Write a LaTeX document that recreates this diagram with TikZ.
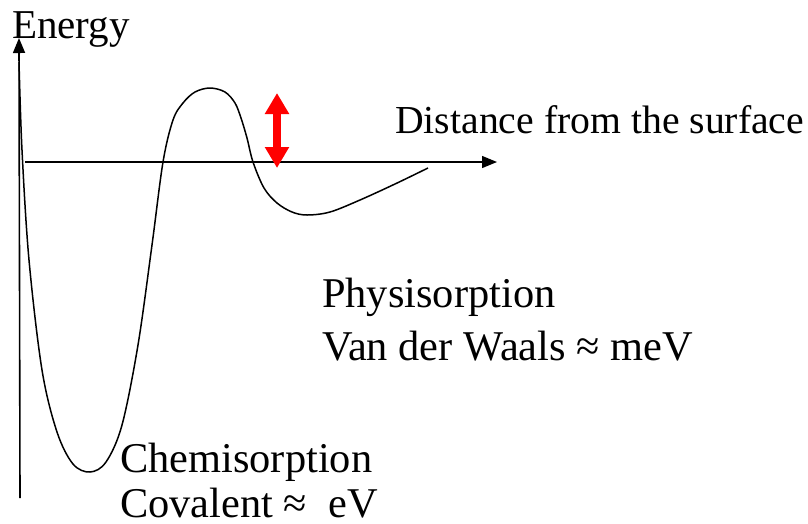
\documentclass[tikz,border=0pt]{standalone}
\usepackage{fontspec}
\setmainfont{Liberation Serif}
\usetikzlibrary{arrows.meta}
\begin{document}
\begin{tikzpicture}[x=1pt,y=-1pt,
  lbl/.style={anchor=base west,inner sep=0pt,font=\fontsize{42.4}{48}\selectfont},
  axis/.style={line width=1.6pt,-{Triangle[length=15pt,width=12pt]}},
  curve/.style={line width=1.5pt},
  redarrow/.style={red,line width=7.5pt,{Triangle[length=21pt,width=23pt]}-{Triangle[length=21pt,width=23pt]}}]
\useasboundingbox (0,0) rectangle (808,523);
% axes
\coordinate (vbot) at (20,498);
\coordinate (vtop) at (19,38);
\coordinate (hleft) at (25,162);
\coordinate (hright) at (497,162);
\draw[axis] (vbot) -- (vtop);
\draw[axis,line width=1.3pt] (hleft) -- (hright);
% potential curve
\draw[curve] plot[smooth,tension=0.55] coordinates {
  (19,62) (22,150) (29,260) (42,370) (57,432) (73,464) (90,472)
  (106,462) (122,425) (138,345) (152,245) (163,162) (173,120) (183,103)
  (195,92) (210,88) (225,92) (235,103) (241,118) (247,138) (253,162)
  (264,188) (277,203) (292,212) (307,215) (330,212) (360,200) (395,184) (428,168)};
% red arrow
\coordinate (rtop) at (277,93);
\coordinate (rbot) at (277,168);
\draw[redarrow] (rtop) -- (rbot);
% labels
\node[lbl,font=\fontsize{41}{46}\selectfont] (energy) at (12,38) {Energy};
\node[lbl,font=\fontsize{39.7}{46}\selectfont] (dist) at (395,133) {Distance from the surface};
\node[lbl] (phys) at (322,307) {Physisorption};
\node[lbl] (vdw) at (322,360) {Van der Waals ≈ meV};
\node[lbl] (chem) at (120,472) {Chemisorption};
\node[lbl] (cov) at (120,517) {Covalent ≈\ \ eV};
\end{tikzpicture}
\end{document}
